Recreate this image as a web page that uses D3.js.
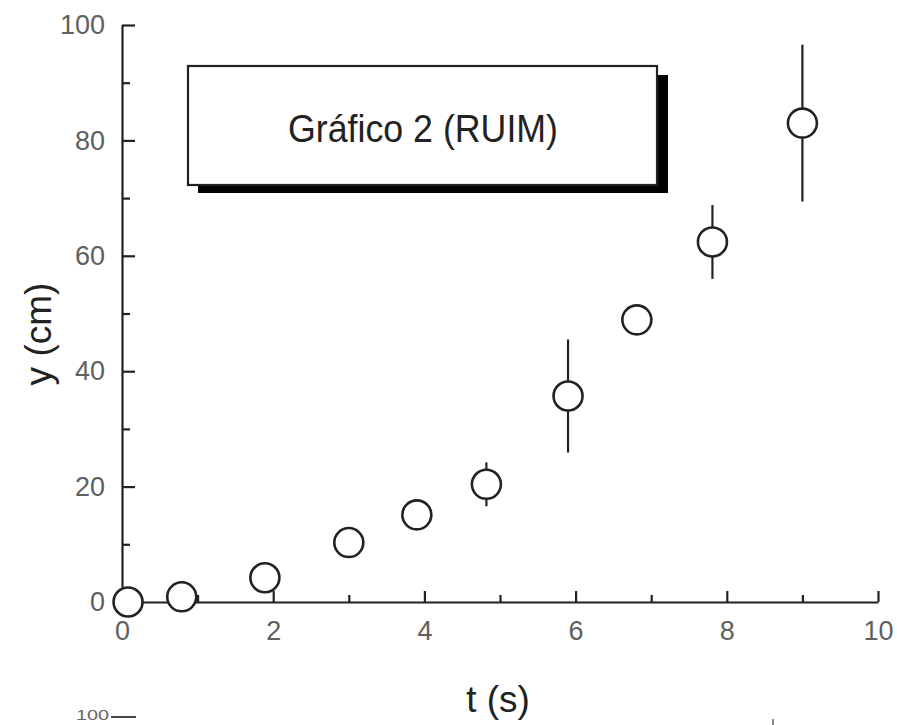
<!DOCTYPE html>
<html><head><meta charset="utf-8">
<script src="https://cdn.jsdelivr.net/npm/d3@7/dist/d3.min.js"></script>
<style>
body{margin:0;background:#fff;}
svg{display:block;font-family:"Liberation Sans",Arial,sans-serif;}
</style>
</head><body>
<svg id="chart" width="897" height="725"></svg>
<script>
// ---- data ----
const tValues = [0.08, 0.79, 1.89, 3.0, 3.9, 4.82, 5.9, 6.81, 7.81, 9.0];
const yValues = [0, 0.9, 4.2, 10.3, 15.1, 20.4, 35.7, 48.9, 62.4, 83.0];
const yErrors = [0, 0, 0, 0, 0, 3.8, 9.8, 0, 6.4, 13.6];
const xMajorTicks = [0, 2, 4, 6, 8, 10];
const xMinorTicks = [1, 3, 5, 7, 9];
const yMajorTicks = [0, 20, 40, 60, 80, 100];
const yMinorTicks = [10, 30, 50, 70, 90];
const xTitle = "t (s)";
const yTitle = "y (cm)";
const legendLabel = "Gráfico 2 (RUIM)";
const nextPanelTick = "100";

const svg = d3.select("#chart");
const ink = "#222";

const x = d3.scaleLinear().domain([0, 10]).range([122, 878]);
const y = d3.scaleLinear().domain([0, 100]).range([602, 25]);

// ---- axes ----
const gx = svg.append("g").attr("transform", `translate(0,${y(0)})`);
gx.call(d3.axisBottom(x).tickValues(xMajorTicks).tickFormat(d3.format("d"))
  .tickSizeInner(-11).tickSizeOuter(0).tickPadding(19));
const gxm = svg.append("g").attr("transform", `translate(0,${y(0)})`);
gxm.call(d3.axisBottom(x).tickValues(xMinorTicks).tickFormat("")
  .tickSizeInner(-7).tickSizeOuter(0));
gxm.select(".domain").remove();

const gy = svg.append("g").attr("transform", `translate(${x(0)},0)`);
gy.call(d3.axisLeft(y).tickValues(yMajorTicks).tickFormat(d3.format("d"))
  .tickSizeInner(-13).tickSizeOuter(0).tickPadding(17));
const gym = svg.append("g").attr("transform", `translate(${x(0)},0)`);
gym.call(d3.axisLeft(y).tickValues(yMinorTicks).tickFormat("")
  .tickSizeInner(-8).tickSizeOuter(0));
gym.select(".domain").remove();

svg.selectAll(".domain").attr("stroke", ink).attr("stroke-width", 2.2);
svg.selectAll(".tick line").attr("stroke", ink).attr("stroke-width", 2.2);
svg.selectAll(".tick text")
  .attr("font-family", "'Liberation Sans', Arial, sans-serif")
  .attr("font-size", 27).attr("fill", "#606060");

// axis titles
svg.append("text").attr("x", 498).attr("y", 712)
  .attr("text-anchor", "middle").attr("font-size", 37).attr("fill", ink)
  .text(xTitle);
svg.append("text")
  .attr("transform", `translate(51,334) rotate(-90)`)
  .attr("text-anchor", "middle").attr("font-size", 37).attr("fill", ink)
  .text(yTitle);

// ---- legend box with shadow ----
const lg = svg.append("g");
lg.append("rect").attr("x", 198).attr("y", 75).attr("width", 470).attr("height", 118)
  .attr("fill", "#000");
lg.append("rect").attr("x", 188).attr("y", 66).attr("width", 469).attr("height", 119)
  .attr("fill", "#fff").attr("stroke", ink).attr("stroke-width", 2.2);
lg.append("text").attr("x", 423).attr("y", 142)
  .attr("text-anchor", "middle").attr("font-size", 38).attr("fill", ink)
  .attr("textLength", 270).attr("lengthAdjust", "spacingAndGlyphs")
  .text(legendLabel);

// ---- data ----
const data = tValues.map((t, i) => ({t, v: yValues[i], e: yErrors[i]}));

svg.append("g").selectAll("line").data(data.filter(d => d.e > 0)).join("line")
  .attr("x1", d => x(d.t)).attr("x2", d => x(d.t))
  .attr("y1", d => y(d.v + d.e)).attr("y2", d => y(d.v - d.e))
  .attr("stroke", ink).attr("stroke-width", 2.2);

svg.append("g").selectAll("circle").data(data).join("circle")
  .attr("cx", d => x(d.t)).attr("cy", d => y(d.v)).attr("r", 14.5)
  .attr("fill", "#fff").attr("stroke", ink).attr("stroke-width", 2.6);

// ---- fragment of the next panel at the bottom edge ----
const frag = svg.append("g");
frag.append("text").attr("x", 76).attr("y", 720).attr("font-size", 14).attr("fill", "#666")
  .attr("textLength", 33).attr("lengthAdjust", "spacingAndGlyphs").text(nextPanelTick);
frag.append("line").attr("x1", 111).attr("x2", 136).attr("y1", 717).attr("y2", 717)
  .attr("stroke", "#444").attr("stroke-width", 2);
frag.append("line").attr("x1", 773).attr("x2", 773).attr("y1", 719).attr("y2", 725)
  .attr("stroke", "#888").attr("stroke-width", 2);
</script>
</body></html>
